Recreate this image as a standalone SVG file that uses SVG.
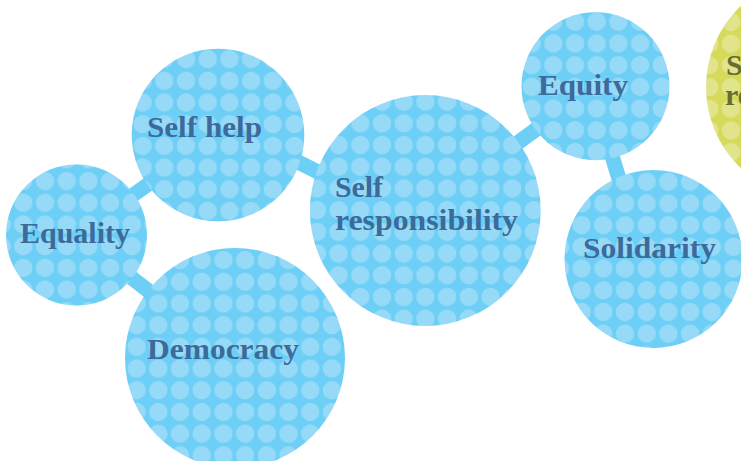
<svg xmlns="http://www.w3.org/2000/svg" width="741" height="461" viewBox="0 0 741 461">
<style>
.lbl{font-family:"Liberation Serif","Times New Roman",serif;font-weight:bold;font-size:30px;fill:#3c6a9a}
.lblY{font-family:"Liberation Serif","Times New Roman",serif;font-weight:bold;font-size:30px;fill:#676c2f}
.conn{stroke:#6dcff6;stroke-width:15;fill:none}
</style>
<defs>
<pattern id="pEq" patternUnits="userSpaceOnUse" width="21.7" height="21.7" x="34.15" y="170.15"><rect width="21.7" height="21.7" fill="#6dcff6"/><circle cx="10.85" cy="10.85" r="9.2" fill="#97daf7"/></pattern>
<pattern id="pSh" patternUnits="userSpaceOnUse" width="21.7" height="21.7" x="153.45" y="48.15"><rect width="21.7" height="21.7" fill="#6dcff6"/><circle cx="10.85" cy="10.85" r="9.2" fill="#97daf7"/></pattern>
<pattern id="pSr" patternUnits="userSpaceOnUse" width="21.7" height="21.7" x="371.15" y="112.45"><rect width="21.7" height="21.7" fill="#6dcff6"/><circle cx="10.85" cy="10.85" r="9.2" fill="#97daf7"/></pattern>
<pattern id="pDe" patternUnits="userSpaceOnUse" width="21.7" height="21.7" x="147.45" y="249.15"><rect width="21.7" height="21.7" fill="#6dcff6"/><circle cx="10.85" cy="10.85" r="9.2" fill="#97daf7"/></pattern>
<pattern id="pEt" patternUnits="userSpaceOnUse" width="21.7" height="21.7" x="542.45" y="10.85"><rect width="21.7" height="21.7" fill="#6dcff6"/><circle cx="10.85" cy="10.85" r="9.2" fill="#97daf7"/></pattern>
<pattern id="pSo" patternUnits="userSpaceOnUse" width="21.7" height="21.7" x="592.45" y="170.85"><rect width="21.7" height="21.7" fill="#6dcff6"/><circle cx="10.85" cy="10.85" r="9.2" fill="#97daf7"/></pattern>
<pattern id="pY" patternUnits="userSpaceOnUse" width="21.7" height="21.7" x="720.15" y="76.15"><rect width="21.7" height="21.7" fill="#d5da5a"/><circle cx="10.85" cy="10.85" r="9.2" fill="#e1e48a"/></pattern>
</defs>
<g id="connectors">
<line class="conn" x1="76.5" y1="235" x2="218" y2="135"/>
<line class="conn" x1="76.5" y1="235" x2="235" y2="358"/>
<line class="conn" x1="260" y1="143" x2="360" y2="193"/>
<line class="conn" x1="425" y1="210.5" x2="595.5" y2="86"/>
<line class="conn" x1="595" y1="100" x2="630" y2="215"/>
</g>
<g id="node-yellow"><circle cx="818" cy="87" r="112" fill="url(#pY)"/><text class="lblY" x="726" y="75">S</text><text class="lblY" x="725" y="105">re</text></g>
<g id="node-equality"><circle cx="76.5" cy="235" r="70.5" fill="url(#pEq)"/><text class="lbl" x="20" y="243" textLength="110" lengthAdjust="spacingAndGlyphs">Equality</text></g>
<g id="node-selfhelp"><circle cx="218" cy="135" r="86.3" fill="url(#pSh)"/><text class="lbl" x="147" y="137" textLength="115" lengthAdjust="spacingAndGlyphs">Self help</text></g>
<g id="node-democracy"><circle cx="235" cy="358" r="110" fill="url(#pDe)"/><text class="lbl" x="147" y="359" textLength="152" lengthAdjust="spacingAndGlyphs">Democracy</text></g>
<g id="node-selfresponsibility"><circle cx="425.3" cy="210.5" r="115.4" fill="url(#pSr)"/><text class="lbl" x="335" y="197" textLength="48" lengthAdjust="spacingAndGlyphs">Self</text><text class="lbl" x="335" y="230" textLength="183" lengthAdjust="spacingAndGlyphs">responsibility</text></g>
<g id="node-equity"><circle cx="595.5" cy="86.2" r="74" fill="url(#pEt)"/><text class="lbl" x="538" y="95" textLength="90" lengthAdjust="spacingAndGlyphs">Equity</text></g>
<g id="node-solidarity"><circle cx="653.5" cy="259" r="89" fill="url(#pSo)"/><text class="lbl" x="583" y="258" textLength="133" lengthAdjust="spacingAndGlyphs">Solidarity</text></g>
</svg>
